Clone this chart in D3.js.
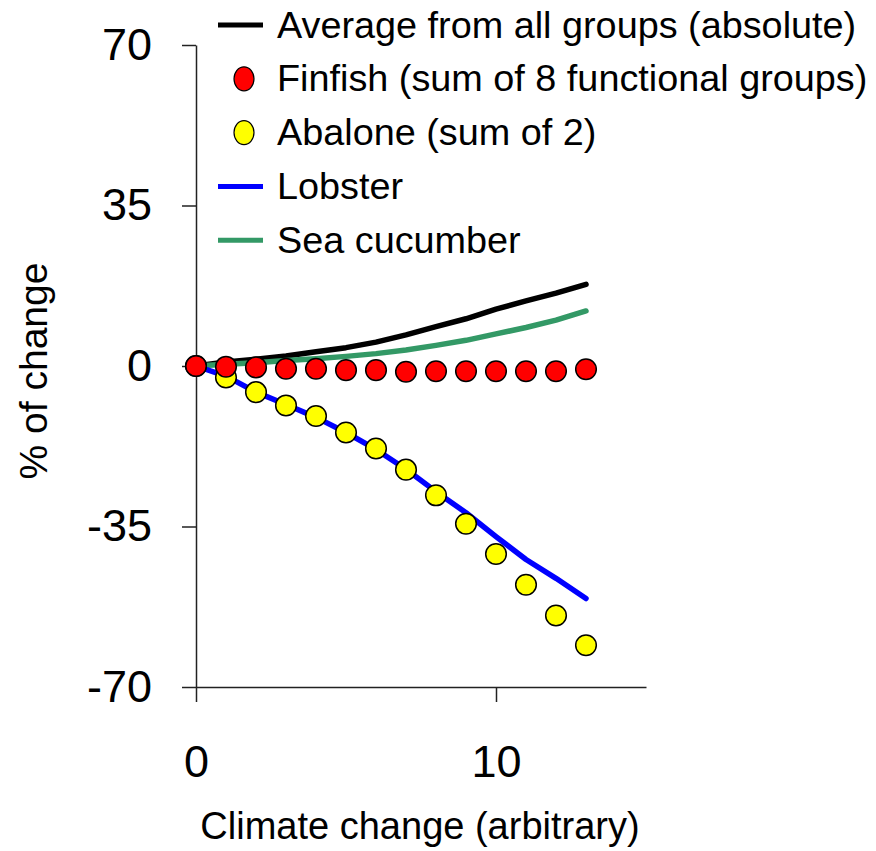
<!DOCTYPE html>
<html>
<head>
<meta charset="utf-8">
<script src="https://cdn.jsdelivr.net/npm/d3@7"></script>
<style>
  body { margin: 0; background: #fff; }
  text { font-family: "Liberation Sans", Arial, sans-serif; fill: #000; }
</style>
</head>
<body>
<svg id="chart" width="876" height="851"></svg>
<script>
  // climate change steps 0..13
  var steps = [0, 1, 2, 3, 4, 5, 6, 7, 8, 9, 10, 11, 12, 13];
  var average = [0, 0.9, 1.5, 2.2, 3.1, 4.0, 5.2, 6.8, 8.6, 10.3, 12.4, 14.2, 15.9, 17.8];
  var finfish = [0, -0.15, -0.3, -0.6, -0.6, -0.9, -0.9, -1.25, -1.15, -1.15, -1.15, -1.15, -1.15, -0.7];
  var abalone = [0, -2.5, -5.7, -8.6, -10.9, -14.5, -18.0, -22.6, -28.2, -34.4, -41.0, -47.7, -54.4, -60.9];
  var lobster = [0, -2.2, -5.7, -8.4, -11.2, -14.5, -18.2, -22.5, -27.4, -32.0, -37.2, -42.2, -46.3, -50.7];
  var seaCucumber = [0, 0.4, 0.7, 1.2, 1.6, 2.1, 2.7, 3.5, 4.5, 5.6, 7.0, 8.4, 10.0, 12.0];
  var yTicks = [-70, -35, 0, 35, 70];
  var xTicks = [0, 10];

  var svg = d3.select("#chart");
  var scaleX = d3.scaleLinear().domain([0, 15]).range([196, 646]);
  var scaleY = d3.scaleLinear().domain([-70, 70]).range([687, 45]);

  // axes (plain hyphen for negatives, like the original)
  var plain = function(d) { return String(d); };
  var gy = svg.append("g").attr("transform", "translate(196,0)")
    .call(d3.axisLeft(scaleY).tickValues(yTicks).tickFormat(plain).tickSize(14).tickSizeOuter(0).tickPadding(30));
  var gx = svg.append("g").attr("transform", "translate(0,687)")
    .call(d3.axisBottom(scaleX).tickValues(xTicks).tickFormat(plain).tickSize(15).tickSizeOuter(0).tickPadding(43));
  [gy, gx].forEach(function(g) {
    g.selectAll("path, line").attr("stroke", "#222").attr("stroke-width", 1.5);
    g.selectAll("text").style("font-size", "45px").attr("fill", "#000");
  });

  svg.append("text").attr("x", 420).attr("y", 839).attr("text-anchor", "middle")
    .style("font-size", "38px").text("Climate change (arbitrary)");
  svg.append("text").attr("transform", "translate(47,371) rotate(-90)").attr("text-anchor", "middle")
    .style("font-size", "39px").text("% of change");

  function drawLine(values, colour) {
    svg.append("path")
      .datum(steps)
      .attr("fill", "none")
      .attr("stroke", colour)
      .attr("stroke-width", 5.5)
      .attr("stroke-linecap", "round")
      .attr("stroke-linejoin", "round")
      .attr("d", d3.line()
        .x(function(d) { return scaleX(d); })
        .y(function(d, i) { return scaleY(values[i]); }));
  }
  drawLine(average, "#000000");
  drawLine(seaCucumber, "#339966");
  drawLine(lobster, "#0000ff");

  function drawDots(values, colour) {
    svg.append("g").selectAll("circle")
      .data(steps)
      .enter().append("circle")
      .attr("cx", function(d) { return scaleX(d); })
      .attr("cy", function(d, i) { return scaleY(values[i]); })
      .attr("r", 10.3)
      .attr("fill", colour)
      .attr("stroke", "#000")
      .attr("stroke-width", 1.5);
  }
  drawDots(abalone, "#ffff00");
  drawDots(finfish, "#ff0000");

  // legend
  var legendItems = [
    { label: "Average from all groups (absolute)", type: "line", colour: "#000000" },
    { label: "Finfish (sum of 8 functional groups)", type: "dot", colour: "#ff0000" },
    { label: "Abalone (sum of 2)", type: "dot", colour: "#ffff00" },
    { label: "Lobster", type: "line", colour: "#0000ff" },
    { label: "Sea cucumber", type: "line", colour: "#339966" }
  ];
  var legend = svg.append("g");
  legendItems.forEach(function(item, i) {
    var cy = 25 + i * 53.8;
    if (item.type === "line") {
      legend.append("line").attr("x1", 218).attr("x2", 263).attr("y1", cy).attr("y2", cy)
        .attr("stroke", item.colour).attr("stroke-width", 5);
    } else {
      legend.append("ellipse").attr("cx", 244).attr("cy", cy).attr("rx", 10).attr("ry", 12)
        .attr("fill", item.colour).attr("stroke", "#000").attr("stroke-width", 1.2);
    }
    legend.append("text").attr("x", 277).attr("y", cy + 12.5)
      .style("font-size", "37.8px").text(item.label);
  });
</script>
</body>
</html>
